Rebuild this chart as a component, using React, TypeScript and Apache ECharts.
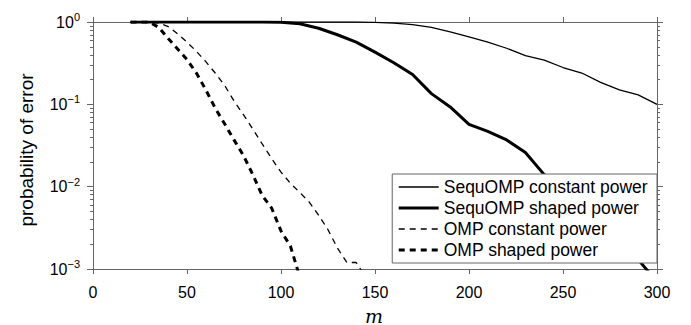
import React, { useEffect, useRef } from "react";
import * as echarts from "echarts";

const mSequ = [20, 30, 40, 50, 60, 70, 80, 90, 100, 110, 120, 130, 140, 150, 160, 170, 180, 190, 200, 210, 220, 230, 240, 250, 260, 270, 280, 290, 300];
const pSequConst = [1, 1, 1, 1, 1, 1, 1, 1, 1, 1, 1, 1, 1, 0.99, 0.97, 0.93, 0.86, 0.76, 0.66, 0.57, 0.48, 0.39, 0.345, 0.28, 0.24, 0.185, 0.15, 0.13, 0.1];
const pSequShaped = [1, 1, 1, 1, 1, 1, 1, 1, 0.99, 0.95, 0.84, 0.7, 0.57, 0.43, 0.32, 0.23, 0.135, 0.093, 0.057, 0.047, 0.037, 0.026, 0.014, 0.008, 0.005, 0.0033, 0.0021, 0.0013, 0.0007];

const mOmpConst = [20, 25, 30, 35, 40, 45, 50, 55, 60, 65, 70, 75, 80, 85, 90, 95, 100, 105, 110, 115, 120, 125, 130, 135, 140, 145];
const pOmpConst = [1, 1, 1, 0.97, 0.88, 0.72, 0.57, 0.44, 0.33, 0.24, 0.17, 0.11, 0.075, 0.05, 0.033, 0.022, 0.015, 0.011, 0.0085, 0.0065, 0.0045, 0.003, 0.0018, 0.0012, 0.0012, 0.0008];

const mOmpShaped = [20, 25, 30, 35, 40, 45, 50, 55, 60, 65, 70, 75, 80, 85, 90, 95, 100, 105, 110];
const pOmpShaped = [1, 1, 1, 0.86, 0.63, 0.47, 0.35, 0.24, 0.15, 0.09, 0.058, 0.037, 0.024, 0.014, 0.0078, 0.0055, 0.0029, 0.0019, 0.0008];

const seriesNames = ["SequOMP constant power", "SequOMP shaped power", "OMP constant power", "OMP shaped power"];
const yTickExponents = ["−3", "−2", "−1", "0"];
const yMajor = [0.001, 0.01, 0.1, 1];
const yAxisTitle = "probability of error";
const xAxisTitle = "m";

const FONT = "Liberation Sans, Arial, Helvetica, sans-serif";
const AXIS_COLOR = "#666";

const lineWidths = [1.3, 3, 1.3, 3];
const lineDash: (number[] | "solid")[] = ["solid", "solid", [6, 5], [6, 5]];

function pairs(xs: number[], ys: number[]) {
  return xs.map((x, i) => [x, ys[i]]);
}

export default function App() {
  const ref = useRef<HTMLDivElement>(null);
  useEffect(() => {
    if (!ref.current) return;
    const chart = echarts.init(ref.current, null, { renderer: "svg" });
    const minorVals: number[] = [];
    for (let d = 0; d < 3; d++) {
      for (let k = 2; k <= 9; k++) minorVals.push(parseFloat((k * yMajor[d]).toPrecision(3)));
    }
    const baseY = {
      type: "log" as const,
      logBase: 10,
      min: 0.001,
      max: 1,
      splitLine: { show: false },
      axisLine: { show: true, lineStyle: { color: AXIS_COLOR, width: 1 } },
    };
    const labelFmt = (v: number) => {
      const idx = yMajor.findIndex((m) => Math.abs(m - v) / m < 1e-6);
      if (idx < 0) return "";
      return "{b|10}{s|" + yTickExponents[idx] + "}";
    };
    const dataSets = [
      pairs(mSequ, pSequConst),
      pairs(mSequ, pSequShaped),
      pairs(mOmpConst, pOmpConst),
      pairs(mOmpShaped, pOmpShaped),
    ];
    chart.setOption({
      animation: false,
      grid: { left: 93, right: 34, top: 22, bottom: 56, containLabel: false },
      graphic: [
        {
          type: "text",
          x: 26,
          y: 150,
          rotation: Math.PI / 2,
          style: {
            text: yAxisTitle,
            fontFamily: FONT,
            fontSize: 19,
            fill: "#000",
            align: "center",
            verticalAlign: "middle",
          },
        },
        {
          type: "text",
          x: 374,
          y: 325,
          style: {
            text: xAxisTitle,
            fontFamily: "DejaVu Serif, Liberation Serif, serif",
            fontStyle: "italic",
            fontSize: 19,
            fill: "#000",
            align: "center",
            verticalAlign: "bottom",
          },
        },
      ],
      xAxis: [
        {
          type: "value",
          min: 0,
          max: 300,
          interval: 50,
          position: "bottom",
          axisLine: { lineStyle: { color: AXIS_COLOR, width: 1 } },
          axisTick: { length: 5, lineStyle: { color: AXIS_COLOR } },
          axisLabel: { fontFamily: FONT, fontSize: 16, color: "#000", margin: 15 },
          splitLine: { show: false },
        },
        {
          type: "value",
          min: 0,
          max: 300,
          interval: 50,
          position: "top",
          axisLine: { lineStyle: { color: AXIS_COLOR, width: 1 } },
          axisTick: { length: 5, lineStyle: { color: AXIS_COLOR } },
          axisLabel: { show: false },
          splitLine: { show: false },
        },
      ],
      yAxis: [
        {
          ...baseY,
          position: "left",
          axisTick: { length: 6, lineStyle: { color: AXIS_COLOR } },
          axisLabel: {
            margin: 13,
            formatter: labelFmt,
            rich: {
              b: { fontFamily: FONT, fontSize: 16, color: "#000" },
              s: { fontFamily: FONT, fontSize: 11, color: "#000", padding: [0, 0, 10, 0] },
            },
          },
        },
        {
          ...baseY,
          position: "left",
          axisTick: { length: 3, customValues: minorVals, lineStyle: { color: AXIS_COLOR } },
          axisLabel: { show: false },
        },
        {
          ...baseY,
          position: "right",
          axisTick: { length: 6, lineStyle: { color: AXIS_COLOR } },
          axisLabel: { show: false },
        },
        {
          ...baseY,
          position: "right",
          axisTick: { length: 3, customValues: minorVals, lineStyle: { color: AXIS_COLOR } },
          axisLabel: { show: false },
        },
      ],
      legend: {
        orient: "vertical",
        right: 34,
        top: 174,
        backgroundColor: "#fff",
        borderColor: "#666",
        borderWidth: 1,
        borderRadius: 0,
        padding: [4, 9, 4, 5],
        itemGap: 3,
        itemWidth: 40,
        itemHeight: 14,
        z: 10,
        itemStyle: { opacity: 0 },
        textStyle: { fontFamily: FONT, fontSize: 17.5, color: "#000" },
        data: seriesNames.map((name, i) => ({
          name,
          itemStyle: { opacity: 0 },
          lineStyle: { width: lineWidths[i], type: lineDash[i], color: "#000" },
        })),
      },
      series: seriesNames.map((name, i) => ({
        name,
        type: "line",
        data: dataSets[i],
        symbol: "none",
        color: "#000",
        lineStyle: { color: "#000", width: lineWidths[i], type: lineDash[i] },
      })),
    });
    return () => chart.dispose();
  }, []);
  return <div ref={ref} style={{ width: 691, height: 325, position: "absolute", left: 0, top: 0 }} />;
}
